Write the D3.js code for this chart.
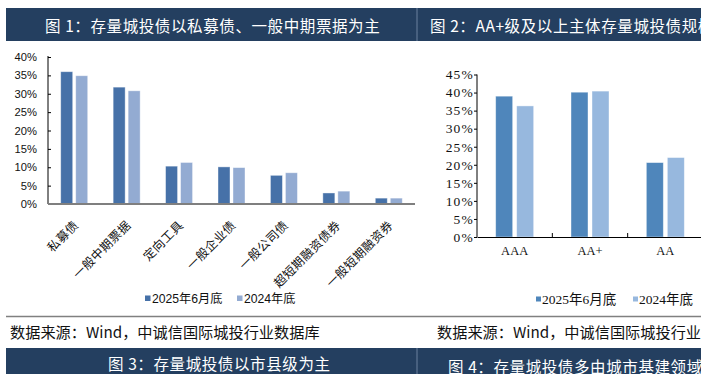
<!DOCTYPE html>
<html>
<head>
  <meta charset="utf-8">
  <script src="https://cdnjs.cloudflare.com/ajax/libs/d3/7.8.5/d3.min.js"></script>
  <style>
    body, html {
      margin: 0;
      padding: 0;
      background: white;
      overflow: hidden;
    }
    .cjk { font-family: 'Noto Sans CJK SC', sans-serif; }
  </style>
</head>
<body>
  <svg id="chart" width="701" height="374"></svg>
  <script>
    // chart 1 data
    const cats1 = ["私募债", "一般中期票据", "定向工具", "一般企业债", "一般公司债", "超短期融资债券", "一般短期融资券"];
    const s1Jun2025 = [36.0, 31.8, 10.3, 10.1, 7.8, 3.0, 1.6];
    const s1End2024 = [34.9, 30.8, 11.3, 9.9, 8.5, 3.5, 1.6];
    const yTicks1 = [0, 5, 10, 15, 20, 25, 30, 35, 40];

    // chart 2 data
    const cats2 = ["AAA", "AA+", "AA"];
    const s2Jun2025 = [39.0, 40.1, 20.6];
    const s2End2024 = [36.3, 40.4, 22.0];
    const yTicks2 = [0, 5, 10, 15, 20, 25, 30, 35, 40, 45];

    const seriesNames = ["2025年6月底", "2024年底"];

    const titles = {
      fig1: "图 1：存量城投债以私募债、一般中期票据为主",
      fig2: "图 2：AA+级及以上主体存量城投债规模",
      fig3: "图 3：存量城投债以市县级为主",
      fig4: "图 4：存量城投债多由城市基建领域"
    };
    const sourceText = "数据来源：Wind，中诚信国际城投行业数据库";

    const navy = "#243f60";
    const svg = d3.select("#chart");

    // header bands
    svg.append("rect").attr("x", 6).attr("y", 8).attr("width", 695).attr("height", 33).attr("fill", navy);
    svg.append("rect").attr("x", 6).attr("y", 348).attr("width", 695).attr("height", 26).attr("fill", navy);
    svg.append("line").attr("x1", 417).attr("x2", 417).attr("y1", 8).attr("y2", 41)
      .attr("stroke", "#6a819e").attr("stroke-width", 1);
    svg.append("line").attr("x1", 417).attr("x2", 417).attr("y1", 348).attr("y2", 374)
      .attr("stroke", "#6a819e").attr("stroke-width", 1);

    function header(txt, x, y) {
      svg.append("text").attr("class", "cjk").attr("x", x).attr("y", y)
        .attr("fill", "white").attr("font-size", 15.5).attr("letter-spacing", 0.6)
        .attr("dominant-baseline", "central").text(txt);
    }
    header(titles.fig1, 45, 25);
    header(titles.fig2, 430, 25);
    header(titles.fig3, 108, 363);
    header(titles.fig4, 448, 366);

    // gray separator + source
    svg.append("line").attr("x1", 6).attr("x2", 701).attr("y1", 316.5).attr("y2", 316.5)
      .attr("stroke", "#808080").attr("stroke-width", 1.5);
    svg.append("text").attr("class", "cjk").attr("x", 10).attr("y", 331)
      .attr("font-size", 15.2).attr("fill", "#111").attr("dominant-baseline", "central").text(sourceText);
    svg.append("text").attr("class", "cjk").attr("x", 437).attr("y", 331)
      .attr("font-size", 15.2).attr("fill", "#111").attr("dominant-baseline", "central").text(sourceText);

    // ---------- chart 1 ----------
    const c1Dark = "#4671a8", c1Light = "#93abd2";
    const x1 = d3.scaleBand().domain(cats1).range([48, 415]);
    const xs1 = d3.scaleBand().domain(seriesNames).range([-13.5, 13.5]).paddingInner(0.2);
    const y1 = d3.scaleLinear().domain([0, 40]).range([204, 57]);

    const g1 = svg.append("g");
    [s1Jun2025, s1End2024].forEach((vals, si) => {
      g1.selectAll(".b1s" + si)
        .data(cats1.map((c, i) => ({ c, v: vals[i] })))
        .join("rect")
        .attr("x", d => x1(d.c) + x1.bandwidth() / 2 + xs1(seriesNames[si]))
        .attr("y", d => y1(d.v))
        .attr("width", xs1.bandwidth())
        .attr("height", d => y1(0) - y1(d.v))
        .attr("fill", si === 0 ? c1Dark : c1Light)
        .attr("stroke", "#ffffff").attr("stroke-opacity", 0.5).attr("stroke-width", 0.8);
    });

    const yAx1 = svg.append("g").attr("transform", "translate(48,0)")
      .call(d3.axisLeft(y1).tickValues(yTicks1).tickFormat(d => d + "%").tickSize(-3).tickPadding(11));
    yAx1.select(".domain").attr("stroke", "#000").attr("d", "M0,56V204");
    yAx1.selectAll("text").attr("font-family", "'Liberation Sans', Arial, sans-serif").attr("font-size", 11.2).attr("fill", "#111");
    yAx1.selectAll(".tick line").attr("stroke", "#000");

    svg.append("line").attr("x1", 48).attr("x2", 415).attr("y1", 204).attr("y2", 204)
      .attr("stroke", "#7f7f7f").attr("stroke-width", 2);

    svg.append("g").selectAll("text").data(cats1).join("text")
      .attr("class", "cjk")
      .attr("transform", d => `translate(${x1(d) + x1.bandwidth() / 2 + 5},${226}) rotate(-45)`)
      .attr("text-anchor", "end")
      .attr("font-size", 12.2).attr("letter-spacing", 0.4).attr("fill", "#111")
      .text(d => d);

    // legend 1
    const leg1 = [{ x: 145, tx: 152 }, { x: 237, tx: 244 }];
    leg1.forEach((p, i) => {
      svg.append("rect").attr("x", p.x).attr("y", 295.5).attr("width", 5.5).attr("height", 5.5)
        .attr("fill", i === 0 ? c1Dark : c1Light);
      svg.append("text").attr("x", p.tx).attr("y", 298.5).attr("dominant-baseline", "central")
        .attr("font-family", "'Liberation Sans', 'Noto Sans CJK SC', sans-serif")
        .attr("font-size", 12.2).attr("fill", "#111").text(seriesNames[i]);
    });

    // ---------- chart 2 ----------
    const c2Dark = "#4f86bb", c2Light = "#97b8de";
    const x2 = d3.scaleBand().domain(cats2).range([477, 703]);
    const xs2 = d3.scaleBand().domain(seriesNames).range([-19, 19]).paddingInner(4 / 21);
    const y2 = d3.scaleLinear().domain([0, 45]).range([237, 74.5]);

    [s2Jun2025, s2End2024].forEach((vals, si) => {
      svg.append("g").selectAll("rect")
        .data(cats2.map((c, i) => ({ c, v: vals[i] })))
        .join("rect")
        .attr("x", d => x2(d.c) + x2.bandwidth() / 2 + xs2(seriesNames[si]))
        .attr("y", d => y2(d.v))
        .attr("width", xs2.bandwidth())
        .attr("height", d => y2(0) - y2(d.v))
        .attr("fill", si === 0 ? c2Dark : c2Light)
        .attr("stroke", "#ffffff").attr("stroke-opacity", 0.5).attr("stroke-width", 0.8);
    });

    const yAx2 = svg.append("g").attr("transform", "translate(477,0)")
      .call(d3.axisLeft(y2).tickValues(yTicks2).tickFormat(d => d + "%").tickSize(3).tickPadding(0));
    yAx2.select(".domain").attr("stroke", "#000").attr("d", "M0,74.5V237");
    yAx2.selectAll(".tick line").attr("stroke", "#000");
    yAx2.selectAll("text").attr("font-family", "'Liberation Serif', 'Times New Roman', serif")
      .attr("font-size", 13.5).attr("letter-spacing", 1.2).attr("fill", "#111");

    const xAx2 = svg.append("g").attr("transform", "translate(0,237)")
      .call(d3.axisBottom(x2).tickSize(0).tickPadding(9));
    xAx2.select(".domain").attr("stroke", "#000");
    xAx2.selectAll("text").attr("font-family", "'Liberation Serif', 'Times New Roman', serif")
      .attr("font-size", 12.5).attr("fill", "#111");
    // boundary ticks between categories, pointing up
    svg.append("g").selectAll("line").data(cats2.slice(1)).join("line")
      .attr("x1", d => x2(d)).attr("x2", d => x2(d))
      .attr("y1", 237).attr("y2", 233).attr("stroke", "#000");

    // legend 2
    const leg2 = [{ x: 536, tx: 542 }, { x: 633, tx: 639 }];
    leg2.forEach((p, i) => {
      svg.append("rect").attr("x", p.x).attr("y", 296.5).attr("width", 5).attr("height", 5)
        .attr("fill", i === 0 ? c2Dark : c2Light);
      svg.append("text").attr("x", p.tx).attr("y", 299.5).attr("dominant-baseline", "central")
        .attr("font-family", "'Liberation Serif', 'Noto Sans CJK SC', serif")
        .attr("font-size", 13.5).attr("fill", "#111").text(seriesNames[i]);
    });
  </script>
</body>
</html>
